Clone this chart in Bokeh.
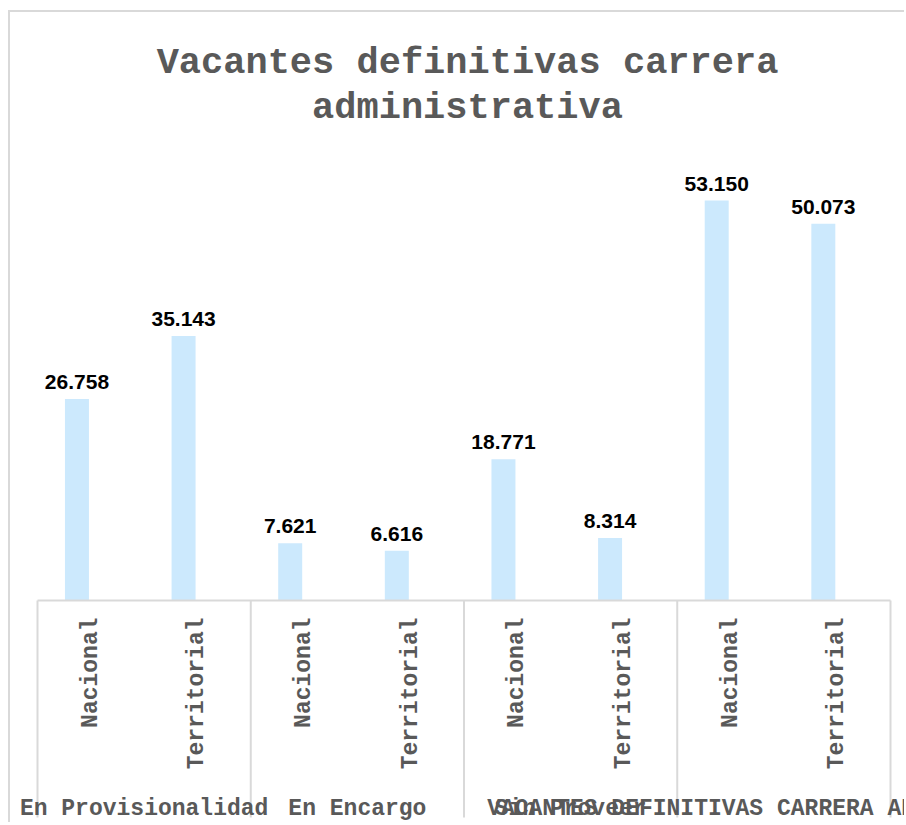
import math
from bokeh.plotting import figure
from bokeh.models import ColumnDataSource, Range1d
from bokeh.embed import file_html
from bokeh.resources import INLINE
from bokeh.core.properties import value

groups = ["En Provisionalidad", "En Encargo", "Sin Proveer",
          "VACANTES DEFINITIVAS CARRERA ADMINISTRATIVA"]
subgroups = ["Nacional", "Territorial"]
nacional = [26758, 7621, 18771, 53150]
territorial = [35143, 6616, 8314, 50073]
title_lines = ["Vacantes definitivas carrera", "administrativa"]

# one slot per (group, subgroup) category, in the order of the chart
nsub = len(subgroups)
cats, vals = [], []
for g, n, t in zip(groups, nacional, territorial):
    cats += [(g, subgroups[0]), (g, subgroups[1])]
    vals += [n, t]
ncat = len(cats)
centers = [i + 0.5 for i in range(ncat)]
BAR_SHIFT = -0.13
bar_x = [c + BAR_SHIFT for c in centers]
labels = [f"{v:,}".replace(",", ".") for v in vals]

src = ColumnDataSource(dict(x=bar_x, c=centers, v=vals, lab=labels,
                            sub=[s for _, s in cats]))

vmax = max(vals)
PX = 400 / vmax                      # pixels per unit of value
y_end = 588 / PX
y_start = -224 / PX
y_sep = -217 / PX

UNIT = 853 / ncat                    # pixels per category slot
x_range = Range1d(-27 / UNIT, ncat + 16 / UNIT)

p = figure(width=896, height=812, x_range=x_range, y_range=Range1d(y_start, y_end),
           output_backend="svg", toolbar_location=None, title=None,
           x_axis_location=None, y_axis_location=None,
           min_border_left=0, min_border_right=0, min_border_bottom=0,
           min_border_top=0)
p.grid.visible = False
p.outline_line_color = None
p.background_fill_color = "white"
p.border_fill_color = "white"

GRID = "#D9D9D9"
TXT = "#595959"
MONO = "Liberation Mono"

# chart title, two centred lines at the top of the chart area
title_x = x_range.start + 457 / UNIT
tsrc = ColumnDataSource(dict(t=title_lines, x=[title_x] * len(title_lines),
                             y=[y_end] * len(title_lines), off=[50, 95]))
p.text(x="x", y="y", text="t", y_offset="off", source=tsrc, text_align="center",
       text_baseline="alphabetic", text_font=value(MONO), text_font_style="bold",
       text_font_size="37px", text_color=TXT)

p.vbar(x="x", top="v", width=0.225, source=src, fill_color="#CCE9FD",
       line_color=None)
p.text(x="x", y="v", text="lab", source=src, text_align="center",
       text_baseline="alphabetic", y_offset=-17,
       text_font=value("Liberation Sans"), text_font_style="bold",
       text_font_size="21px", text_color="black")

# category axis box: line along zero and separators between groups
bounds = [i * nsub for i in range(len(groups) + 1)]
p.segment(x0=[0], y0=[0], x1=[ncat], y1=[0], line_color=GRID, line_width=2)
p.segment(x0=bounds, y0=[0] * len(bounds), x1=bounds, y1=[y_sep] * len(bounds),
          line_color=GRID, line_width=2)

# inner category labels (vertical, reading upward)
p.text(x="c", y=0, text="sub", source=src, angle=math.pi / 2,
       text_align="right", text_baseline="middle", y_offset=17,
       text_font=value(MONO), text_font_style="bold", text_font_size="23px",
       text_color=TXT)

# outer category labels, centred on each group
gsrc = ColumnDataSource(dict(g=groups, gx=[i * nsub + nsub / 2 for i in range(len(groups))]))
p.text(x="gx", y=0, text="g", source=gsrc, text_align="center",
       text_baseline="alphabetic", y_offset=208,
       text_font=value(MONO), text_font_style="bold", text_font_size="23px",
       text_color=TXT)

p.styles = {"margin-left": "8px", "margin-top": "10px",
            "border-left": "2px solid #D9D9D9", "border-top": "2px solid #D9D9D9"}

open("out.html", "w").write(file_html(p, INLINE))
